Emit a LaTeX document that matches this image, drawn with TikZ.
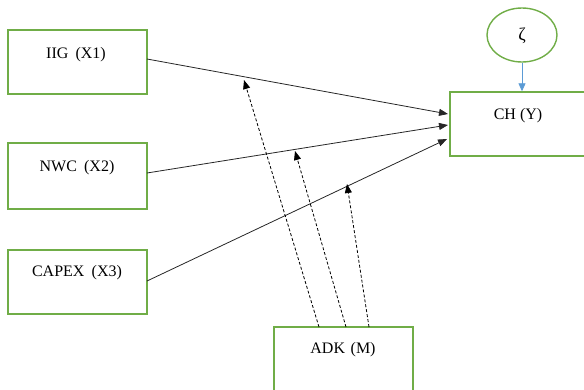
\documentclass[tikz,border=0pt]{standalone}
\usepackage{fontspec}
\setmainfont{Liberation Serif}
\usetikzlibrary{arrows.meta,shapes.geometric}
\definecolor{boxgreen}{HTML}{70AD47}
\definecolor{zblue}{HTML}{5B9BD5}
\tikzset{
  box/.style={draw=boxgreen, line width=1.4pt, rectangle, inner sep=0pt},
  lbl/.style={inner sep=0pt, font=\fontsize{16}{18}\selectfont},
  path/.style={draw=black!85, line width=0.8pt, -{Triangle[length=9pt,width=7pt]}},
  modpath/.style={draw=black, line width=0.8pt, dash pattern=on 3pt off 2pt, -{Triangle[length=9pt,width=7pt]}},
}
\begin{document}
\begin{tikzpicture}[x=1pt,y=-1pt]
\useasboundingbox (0,0) rectangle (584,389);
% boxes
\node[box, minimum width=139pt, minimum height=64pt] (iig) at (77.5,62) {};
\node[box, minimum width=139pt, minimum height=66pt] (nwc) at (77.5,176) {};
\node[box, minimum width=139pt, minimum height=64pt] (capex) at (77.5,282) {};
\node[box, minimum width=150pt, minimum height=64pt] (ch) at (525,124) {};
\node[box, minimum width=139pt, minimum height=80pt] (adk) at (343.5,367) {};
\node[draw=boxgreen, line width=1.4pt, ellipse, minimum width=70pt, minimum height=54pt, inner sep=0pt] (zeta) at (522,35) {};
% labels
\node[lbl] (tiig) at (76,55) {IIG\hspace{0.45em}(X1)};
\node[lbl] (tnwc) at (77,168) {NWC\hspace{0.45em}(X2)};
\node[lbl] (tcapex) at (77,273) {CAPEX\hspace{0.45em}(X3)};
\node[lbl] (tch) at (518,116) {CH (Y)};
\node[lbl] (tadk) at (343,350) {ADK\hspace{0.35em}(M)};
\node[inner sep=0pt, font=\fontsize{18}{20}\selectfont] (tzeta) at (522,36) {ζ};
% end points
\coordinate (iigout) at (147,59);
\coordinate (nwcout) at (147,173);
\coordinate (capexout) at (147,281);
\coordinate (chin1) at (448,114);
\coordinate (chin2) at (448,125);
\coordinate (chin3) at (447,139);
\coordinate (m1) at (319,327);
\coordinate (m2) at (346,327);
\coordinate (m3) at (369,327);
\coordinate (t1) at (244,80);
\coordinate (t2) at (295,151);
\coordinate (t3) at (347,184);
% direct paths
\draw[path] (iigout) -- (chin1);
\draw[path] (nwcout) -- (chin2);
\draw[path] (capexout) -- (chin3);
% moderating paths
\draw[modpath] (m1) -- (t1);
\draw[modpath] (m2) -- (t2);
\draw[modpath] (m3) -- (t3);
% error term
\draw[draw=zblue, line width=0.8pt, -{Triangle[length=8pt,width=7pt]}] (zeta.south) -- (ch.north -| zeta.south);
\end{tikzpicture}
\end{document}
